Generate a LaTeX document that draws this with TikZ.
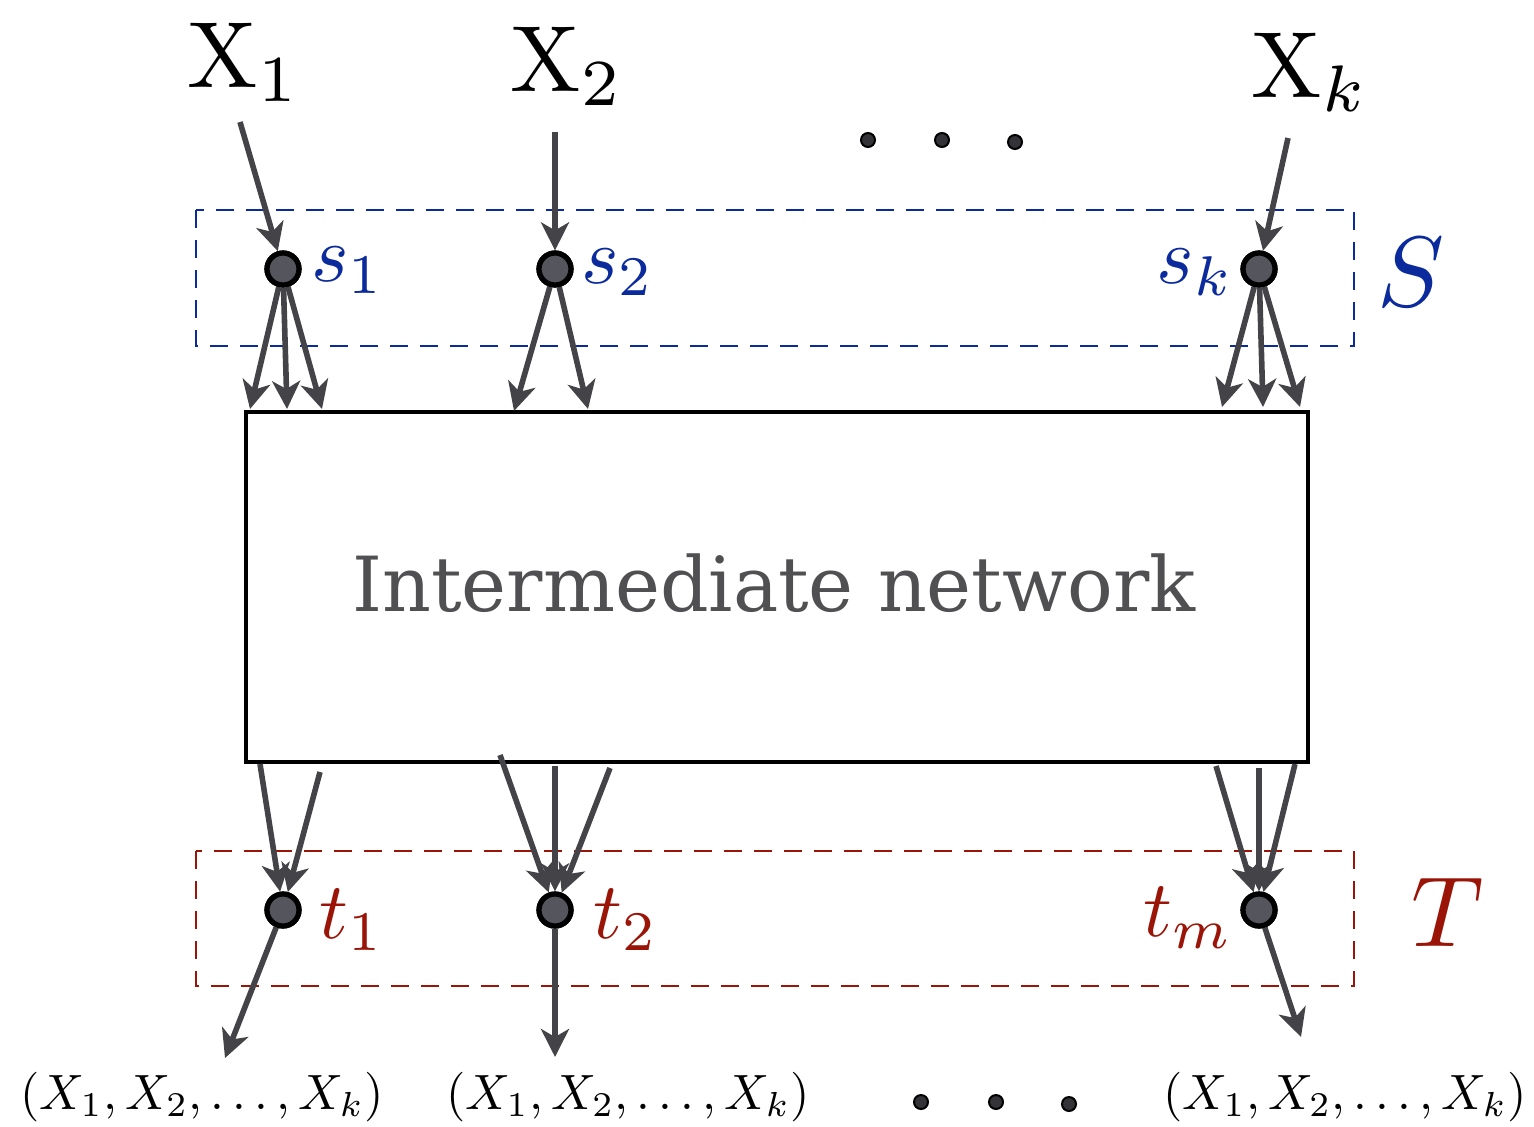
\documentclass[tikz,border=0pt]{standalone}
\usepackage{fontspec}
\newfontfamily\netfont{DejaVu Serif}
\usetikzlibrary{arrows.meta}
\definecolor{sblue}{HTML}{0B2A9C}
\definecolor{tred}{HTML}{9A1508}
\definecolor{agray}{HTML}{444448}
\definecolor{nfill}{HTML}{55555E}
\definecolor{txtgray}{HTML}{505052}
\tikzset{
  arr/.style={draw=agray, line width=2.8pt, -{Stealth[length=14pt,width=14pt,inset=4pt]}},
  vert/.style={circle, draw=black, line width=2.6pt, fill=nfill, minimum size=16pt, inner sep=0pt},
  bigX/.style={font=\fontsize{10}{12}\selectfont, inner sep=0pt, scale=4.7, transform shape},
  slab/.style={font=\fontsize{10}{12}\selectfont, inner sep=0pt, scale=4.0, transform shape},
  setlab/.style={font=\fontsize{10}{12}\selectfont, inner sep=0pt, scale=5.0, transform shape},
  outlab/.style={font=\fontsize{10}{12}\selectfont, inner sep=0pt, scale=2.48, transform shape},
  dotn/.style={circle, draw=black, line width=1pt, fill=nfill!60!black, minimum size=7pt, inner sep=0pt},
}
\begin{document}
\begin{tikzpicture}[x=0.5pt,y=-0.5pt]
\useasboundingbox (0,0) rectangle (1534,1126);
% dashed set boxes
\draw[sblue, line width=1pt, dash pattern=on 9pt off 6pt] (196,210) rectangle (1354,346);
\draw[tred, line width=1pt, dash pattern=on 9pt off 6pt] (196,851) rectangle (1354,986);
% main box
\node[draw=black, line width=2.2pt, minimum width=531pt, minimum height=175pt, inner sep=0pt] (net) at (777,587) {};
\node[text=txtgray, font=\netfont\fontsize{38}{42}\selectfont, inner sep=0pt] (nettxt) at (774,583) {Intermediate network};
% top labels
\node[bigX] (x1) at (244,62) {$\mathrm{X}_1$};
\node[bigX] (x2) at (567,66) {$\mathrm{X}_2$};
\node[bigX] (xk) at (1310,72) {$\mathrm{X}_k$};
\node[dotn] (d1) at (868,140) {};
\node[dotn] (d2) at (942,140) {};
\node[dotn] (d3) at (1015,142) {};
% sources
\node[vert] (s1) at (283,269) {};
\node[vert] (s2) at (555,269) {};
\node[vert] (sk) at (1259,269) {};
\node[slab, text=sblue] (s1l) at (348,270) {$s_1$};
\node[slab, text=sblue] (s2l) at (618,272) {$s_2$};
\node[slab, text=sblue] (skl) at (1195,272) {$s_k$};
\node[setlab, text=sblue] (S) at (1411,272) {$S$};
% sinks
\node[vert] (t1) at (283,910) {};
\node[vert] (t2) at (555,910) {};
\node[vert] (tm) at (1259,910) {};
\node[slab, text=tred] (t1l) at (352,920) {$t_1$};
\node[slab, text=tred] (t2l) at (626,920) {$t_2$};
\node[slab, text=tred] (tml) at (1188,918) {$t_m$};
\node[setlab, text=tred] (T) at (1448,912) {$T$};
% bottom labels
\node[outlab] (o1) at (202,1097) {$(X_1,X_2,\ldots,X_k)$};
\node[outlab] (o2) at (628,1097) {$(X_1,X_2,\ldots,X_k)$};
\node[outlab] (o3) at (1345,1097) {$(X_1,X_2,\ldots,X_k)$};
\node[dotn] (e1) at (921,1102) {};
\node[dotn] (e2) at (996,1102) {};
\node[dotn] (e3) at (1069,1104) {};
% coordinates for arrow ends
\coordinate (a1) at (250,409); \coordinate (a2) at (287,409); \coordinate (a3) at (322,409);
\coordinate (b1) at (514,411); \coordinate (b2) at (588,409);
\coordinate (c1) at (1222,407); \coordinate (c2) at (1263,407); \coordinate (c3) at (1300,407);
\coordinate (x1s) at (240,122); \coordinate (x2s) at (555,132); \coordinate (xks) at (1288,138);
\coordinate (p1) at (260,764); \coordinate (p2) at (320,772);
\coordinate (q1) at (500,755); \coordinate (q2) at (555,766); \coordinate (q3) at (610,768);
\coordinate (r1) at (1216,766); \coordinate (r2) at (1259,768); \coordinate (r3) at (1295,764);
\coordinate (u1) at (225,1058); \coordinate (u2) at (555,1057); \coordinate (u3) at (1301,1037);
% arrows
\draw[arr] (x1s) -- (s1);
\draw[arr] (x2s) -- (s2);
\draw[arr] (xks) -- (sk);
\draw[arr] (s1) -- (a1); \draw[arr] (s1) -- (a2); \draw[arr] (s1) -- (a3);
\draw[arr] (s2) -- (b1); \draw[arr] (s2) -- (b2);
\draw[arr] (sk) -- (c1); \draw[arr] (sk) -- (c2); \draw[arr] (sk) -- (c3);
\draw[arr] (p1) -- (t1); \draw[arr] (p2) -- (t1);
\draw[arr] (q1) -- (t2); \draw[arr] (q2) -- (t2); \draw[arr] (q3) -- (t2);
\draw[arr] (r1) -- (tm); \draw[arr] (r2) -- (tm); \draw[arr] (r3) -- (tm);
\draw[arr] (t1) -- (u1); \draw[arr] (t2) -- (u2); \draw[arr] (tm) -- (u3);
% vertices on top
\node[vert] at (s1) {}; \node[vert] at (s2) {}; \node[vert] at (sk) {};
\node[vert] at (t1) {}; \node[vert] at (t2) {}; \node[vert] at (tm) {};
\end{tikzpicture}
\end{document}
